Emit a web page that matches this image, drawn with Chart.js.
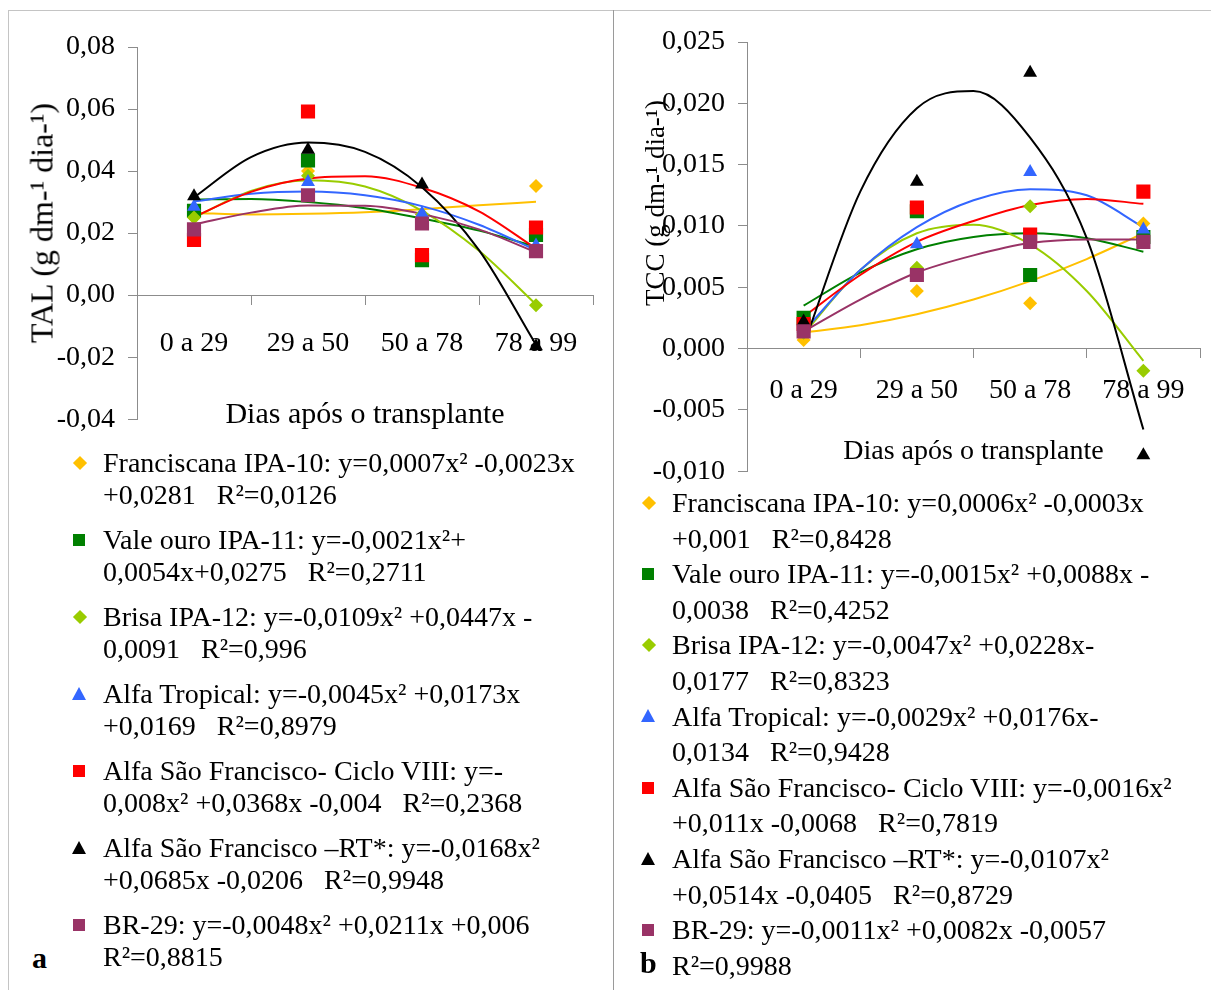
<!DOCTYPE html>
<html>
<head>
<meta charset="utf-8">
<script src="https://cdn.jsdelivr.net/npm/chart.js@4.4.1/dist/chart.umd.min.js"></script>
<style>
    body { margin: 0; background: #fff; }
    #page { position: relative; width: 1211px; height: 990px; overflow: hidden; font-family: "Liberation Serif", "Times New Roman", serif; color: #000; }
    .frame { position: absolute; left: 8px; top: 10px; width: 1210px; height: 990px; border-left: 1px solid #c4c4c4; border-top: 1px solid #c4c4c4; }
    .divider { position: absolute; left: 613px; top: 10px; width: 1px; height: 980px; background: #9a9a9a; }
    canvas { position: absolute; }
    .ytitle { position: absolute; white-space: nowrap; transform: translate(-50%, -50%) rotate(-90deg); }
    .legend { position: absolute; font-size: 28px; white-space: pre; }
    .entry { position: relative; }
    .mk { position: absolute; }
    .panel-tag { position: absolute; font-size: 30px; font-weight: bold; }
</style>
</head>
<body>
<div id="page">
    <div class="frame"></div>
    <div class="divider"></div>
    <canvas id="chartA" width="610" height="449" style="left:0;top:0;width:610px;height:449px"></canvas>
    <canvas id="chartB" width="598" height="501" style="left:613px;top:0;width:598px;height:501px"></canvas>
    <div class="ytitle" style="left:42px;top:223px;font-size:32px">TAL (g dm-¹ dia-¹)</div>
    <div class="ytitle" style="left:655px;top:203px;font-size:27px">TCC (g dm-¹ dia-¹)</div>
    <div id="legendA" class="legend" style="left:103px;top:447px;line-height:32px"></div>
    <div id="legendB" class="legend" style="left:672px;top:485px;line-height:35.6px"></div>
    <div class="panel-tag" style="left:32px;top:941px">a</div>
    <div class="panel-tag" style="left:640px;top:946px">b</div>
</div>
<script>
const categories = ['0 a 29', '29 a 50', '50 a 78', '78 a 99'];
const catX = [1, 2, 3, 4];
const trendX = [1, 1.5, 2, 2.5, 3, 3.5, 4];

const seriesNames = ['Franciscana IPA-10', 'Vale ouro IPA-11', 'Brisa IPA-12', 'Alfa Tropical',
    'Alfa São Francisco- Ciclo VIII', 'Alfa São Francisco –RT*', 'BR-29'];
const seriesColors = ['#FFC000', '#008000', '#99CC00', '#3366FF', '#FF0000', '#000000', '#993366'];
const seriesShapes = ['rectRot', 'rect', 'rectRot', 'triangle', 'rect', 'triangle', 'rect'];
const seriesRadii = [7, 10, 7, 8, 10, 8, 10];

// panel a - TAL
const talFranciscana = [0.0250, 0.0400, 0.0260, 0.0352];
const talValeOuro = [0.0272, 0.0434, 0.0113, 0.0194];
const talBrisa = [0.0250, 0.0385, 0.0260, -0.0033];
const talTropical = [0.0285, 0.0365, 0.0263, 0.0160];
const talCiclo = [0.0178, 0.0592, 0.0129, 0.0218];
const talRT = [0.0319, 0.0469, 0.0357, -0.0165];
const talBR29 = [0.0212, 0.0322, 0.0231, 0.0142];

const talTrendFranciscana = [0.0265, 0.0260, 0.0262, 0.0267, 0.0277, 0.0290, 0.0301];
const talTrendValeOuro = [0.0308, 0.0310, 0.0300, 0.0280, 0.0247, 0.0208, 0.0156];
const talTrendBrisa = [0.0250, 0.0336, 0.0370, 0.0350, 0.0272, 0.0143, -0.0030];
const talTrendTropical = [0.0302, 0.0327, 0.0334, 0.0322, 0.0287, 0.0227, 0.0145];
const talTrendCiclo = [0.0252, 0.0333, 0.0376, 0.0383, 0.0346, 0.0270, 0.0150];
const talTrendRT = [0.0315, 0.0445, 0.0492, 0.0462, 0.0348, 0.0145, -0.0160];
const talTrendBR29 = [0.0228, 0.0266, 0.0289, 0.0288, 0.0262, 0.0212, 0.0138];

// panel b - TCC
const tccFranciscana = [0.0007, 0.0047, 0.0037, 0.0102];
const tccValeOuro = [0.0025, 0.0112, 0.0060, 0.0091];
const tccBrisa = [0.0013, 0.0066, 0.0116, -0.0018];
const tccTropical = [0.0017, 0.0085, 0.0144, 0.0097];
const tccCiclo = [0.0020, 0.0115, 0.0093, 0.0128];
const tccRT = [0.0022, 0.0136, 0.0225, -0.0087];
const tccBR29 = [0.0014, 0.0060, 0.0087, 0.0087];

const tccTrendFranciscana = [0.0013, 0.0019, 0.0028, 0.0040, 0.0055, 0.0073, 0.0094];
const tccTrendValeOuro = [0.0035, 0.0062, 0.0081, 0.0091, 0.0094, 0.0090, 0.0079];
const tccTrendBrisa = [0.0012, 0.0064, 0.0094, 0.0101, 0.0085, 0.0047, -0.0010];
const tccTrendTropical = [0.0014, 0.0064, 0.0099, 0.0121, 0.0130, 0.0125, 0.0099];
const tccTrendCiclo = [0.0026, 0.0060, 0.0087, 0.0104, 0.0117, 0.0122, 0.0118];
const tccTrendRT = [0.0003, 0.0128, 0.0196, 0.0210, 0.0172, 0.0090, -0.0066];
const tccTrendBR29 = [0.0014, 0.0040, 0.0062, 0.0076, 0.0086, 0.0089, 0.0089];

const legendTextA = [
    ['Franciscana IPA-10: y=0,0007x² -0,0023x', '+0,0281   R²=0,0126'],
    ['Vale ouro IPA-11: y=-0,0021x²+', '0,0054x+0,0275   R²=0,2711'],
    ['Brisa IPA-12: y=-0,0109x² +0,0447x -', '0,0091   R²=0,996'],
    ['Alfa Tropical: y=-0,0045x² +0,0173x', '+0,0169   R²=0,8979'],
    ['Alfa São Francisco- Ciclo VIII: y=-', '0,008x² +0,0368x -0,004   R²=0,2368'],
    ['Alfa São Francisco –RT*: y=-0,0168x²', '+0,0685x -0,0206   R²=0,9948'],
    ['BR-29: y=-0,0048x² +0,0211x +0,006', 'R²=0,8815'],
];
const legendTextB = [
    ['Franciscana IPA-10: y=0,0006x² -0,0003x', '+0,001   R²=0,8428'],
    ['Vale ouro IPA-11: y=-0,0015x² +0,0088x -', '0,0038   R²=0,4252'],
    ['Brisa IPA-12: y=-0,0047x² +0,0228x-', '0,0177   R²=0,8323'],
    ['Alfa Tropical: y=-0,0029x² +0,0176x-', '0,0134   R²=0,9428'],
    ['Alfa São Francisco- Ciclo VIII: y=-0,0016x²', '+0,011x -0,0068   R²=0,7819'],
    ['Alfa São Francisco –RT*: y=-0,0107x²', '+0,0514x -0,0405   R²=0,8729'],
    ['BR-29: y=-0,0011x² +0,0082x -0,0057', 'R²=0,9988'],
];

const FONT = '"Liberation Serif", "Times New Roman", serif';
const AXIS_GREY = '#8c8c8c';

function buildDatasets(observed, trends) {
    const sets = [];
    seriesNames.forEach((name, i) => {
        sets.push({
            label: name,
            data: catX.map((x, j) => ({ x: x, y: observed[i][j] })),
            showLine: false,
            pointStyle: seriesShapes[i],
            pointRadius: seriesRadii[i],
            pointBackgroundColor: seriesColors[i],
            pointBorderWidth: 0,
            order: 20 - i,   // later series on top, like the original
        });
        sets.push({
            label: name + ' trend',
            data: trendX.map((x, j) => ({ x: x, y: trends[i][j] })),
            showLine: true,
            borderColor: seriesColors[i],
            borderWidth: 2,
            pointRadius: 0,
            cubicInterpolationMode: 'monotone',
            order: 40 - i,
        });
    });
    return sets;
}

function createChart(canvasId, cfg) {
    const ctx = document.getElementById(canvasId).getContext('2d');
    return new Chart(ctx, {
        type: 'scatter',
        data: { datasets: buildDatasets(cfg.observed, cfg.trends) },
        options: {
            responsive: false,
            animation: false,
            devicePixelRatio: 1,
            layout: { padding: cfg.padding },
            plugins: { legend: { display: false }, tooltip: { enabled: false } },
            scales: {
                x: {
                    type: 'linear',
                    min: 0.5,
                    max: 4.5,
                    position: { y: 0 },
                    afterBuildTicks: (scale) => {
                        scale.ticks = catX.map((v) => ({ value: v }));
                    },
                    ticks: {
                        autoSkip: false,
                        maxRotation: 0,
                        padding: cfg.xTickPadding,
                        color: '#000',
                        font: { family: FONT, size: 28 },
                        callback: (v) => categories[v - 1],
                    },
                    grid: { offset: true, drawOnChartArea: false, tickLength: 9, color: AXIS_GREY },
                    border: { color: AXIS_GREY },
                    title: {
                        display: true,
                        text: 'Dias após o transplante',
                        color: '#000',
                        font: { family: FONT, size: cfg.xTitleSize },
                        padding: { top: cfg.xTitlePad, bottom: 0 },
                    },
                },
                y: {
                    min: cfg.yMin,
                    max: cfg.yMax,
                    ticks: {
                        stepSize: cfg.yStep,
                        padding: 13,
                        color: '#000',
                        font: { family: FONT, size: 28 },
                        callback: (v) => (Math.abs(v) < 1e-9 ? 0 : v).toFixed(cfg.decimals).replace('.', ','),
                    },
                    grid: { drawOnChartArea: false, tickLength: 9, color: AXIS_GREY },
                    border: { color: AXIS_GREY },
                    afterFit: (scale) => { scale.width = cfg.yWidth; },
                },
            },
        },
    });
}

function markerHtml(i) {
    const c = seriesColors[i];
    const shape = seriesShapes[i];
    if (shape === 'rect') {
        return `<span class="mk" style="left:-30px;top:-6px;width:12px;height:12px;background:${c}"></span>`;
    }
    if (shape === 'rectRot') {
        return `<span class="mk" style="left:-28px;top:-5px;width:10px;height:10px;background:${c};transform:rotate(45deg)"></span>`;
    }
    return `<span class="mk" style="left:-31px;top:-7px;width:0;height:0;border-left:7px solid transparent;border-right:7px solid transparent;border-bottom:13px solid ${c}"></span>`;
}

function fillLegend(elId, lines, lineHeight, gap) {
    const el = document.getElementById(elId);
    el.innerHTML = lines.map((pair, i) => {
        return `<div class="entry" style="margin-bottom:${gap}px">` +
            `<div style="position:absolute;left:0;top:${lineHeight / 2}px">${markerHtml(i)}</div>` +
            `<div>${pair[0]}</div><div>${pair[1]}</div></div>`;
    }).join('');
}

createChart('chartA', {
    observed: [talFranciscana, talValeOuro, talBrisa, talTropical, talCiclo, talRT, talBR29],
    trends: [talTrendFranciscana, talTrendValeOuro, talTrendBrisa, talTrendTropical, talTrendCiclo, talTrendRT, talTrendBR29],
    yMin: -0.04, yMax: 0.08, yStep: 0.02, decimals: 2,
    yWidth: 137,
    padding: { left: 0, top: 47, right: 17, bottom: 23 },
    xTickPadding: 23, xTitlePad: 13, xTitleSize: 30,
});

createChart('chartB', {
    observed: [tccFranciscana, tccValeOuro, tccBrisa, tccTropical, tccCiclo, tccRT, tccBR29],
    trends: [tccTrendFranciscana, tccTrendValeOuro, tccTrendBrisa, tccTrendTropical, tccTrendCiclo, tccTrendRT, tccTrendBR29],
    yMin: -0.01, yMax: 0.025, yStep: 0.005, decimals: 3,
    yWidth: 134,
    padding: { left: 0, top: 42, right: 11, bottom: 21 },
    xTickPadding: 16, xTitlePad: 12, xTitleSize: 28,
});

fillLegend('legendA', legendTextA, 32, 13);
fillLegend('legendB', legendTextB, 35.6, 0);
</script>
</body>
</html>
